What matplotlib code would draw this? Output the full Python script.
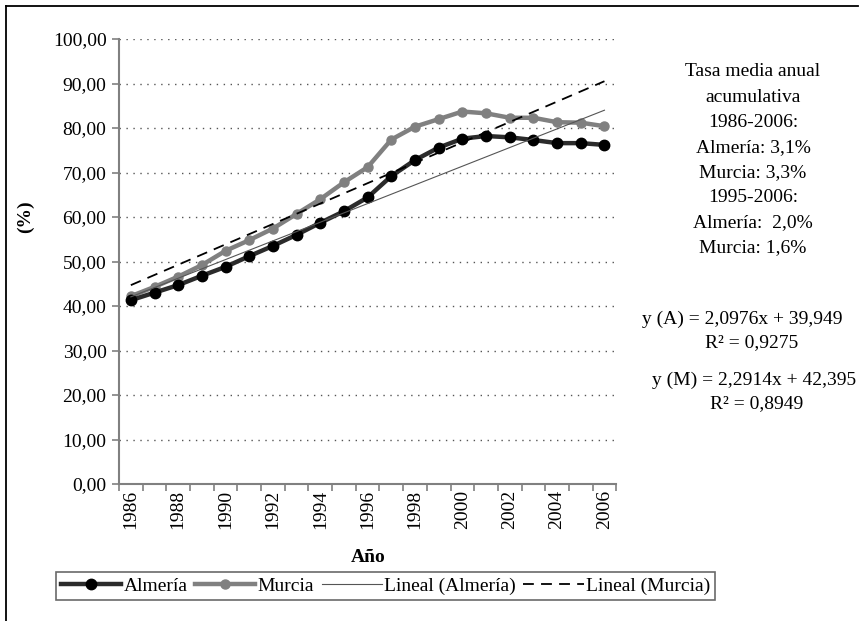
import matplotlib
matplotlib.use("Agg")
import matplotlib.pyplot as plt
from matplotlib.lines import Line2D
import numpy as np

plt.rcParams['font.family'] = ['Liberation Serif', 'DejaVu Serif']

# datos
years = list(range(1986, 2007))
almeria = [41.3, 43.0, 44.7, 46.8, 48.8, 51.2, 53.5, 56.0, 58.7, 61.3, 64.4,
           69.2, 72.8, 75.6, 77.6, 78.2, 77.9, 77.3, 76.6, 76.6, 76.2]
murcia = [42.2, 44.3, 46.6, 49.2, 52.4, 54.8, 57.4, 60.7, 64.0, 67.8, 71.2,
          77.4, 80.3, 82.0, 83.7, 83.3, 82.3, 82.3, 81.3, 81.2, 80.4]
# coeficientes de las rectas de tendencia (del propio gráfico)
coef_a = (2.0976, 39.949)
coef_m = (2.2914, 42.395)

yticks = [0, 10, 20, 30, 40, 50, 60, 70, 80, 90, 100]
ytick_labels = ["0,00", "10,00", "20,00", "30,00", "40,00", "50,00",
                "60,00", "70,00", "80,00", "90,00", "100,00"]
xtick_labels = [str(y) for y in years[::2]]

side_lines = ["Tasa media anual", "acumulativa", "1986-2006:", "Almería: 3,1%",
              "Murcia: 3,3%", "1995-2006:", "Almería:  2,0%", "Murcia: 1,6%"]

W, H = 859, 621
FS = 14
fig = plt.figure(figsize=(W / 100, H / 100), dpi=100)

def fx(x):
    return x / W

def fy(y):
    return 1 - y / H

ax = fig.add_axes([fx(119), fy(484), fx(616.3) - fx(119), fy(39) - fy(484)])

x = np.arange(len(years))
n = np.arange(1, len(years) + 1)

ax.plot(x, murcia, color='#808080', lw=3.2, marker='o', ms=6.5,
        mfc='#808080', mec='#808080', label='Murcia', zorder=3)
ax.plot(x, almeria, color='#2b2b2b', lw=3.2, marker='o', ms=7.5,
        mfc='black', mec='black', label='Almería', zorder=4)
ax.plot(x, coef_a[0] * n + coef_a[1], color='#555555', lw=0.8,
        label='Lineal (Almería)', zorder=5)
ax.plot(x, coef_m[0] * n + coef_m[1], color='black', lw=1.3,
        dashes=(6, 4), label='Lineal (Murcia)', zorder=5)

ax.set_xlim(-0.5, len(years) - 0.5)
ax.set_ylim(0, 100)

ax.set_yticks(yticks)
ax.set_yticklabels(ytick_labels, fontsize=FS)
for v in yticks[1:]:
    ax.axhline(v, color='#555555', lw=1.0, ls=(0, (1, 4)), zorder=1)

ax.set_xticks(np.arange(-0.5, len(years) + 0.5, 1))
ax.set_xticklabels([])
ax.set_xticks(x[::2], minor=True)
ax.set_xticklabels(xtick_labels, minor=True, rotation=90, fontsize=FS)
ax.tick_params(axis='x', which='minor', length=0, pad=4)
ax.tick_params(axis='x', which='major', length=5, color='#808080', width=1.2)
ax.tick_params(axis='y', length=5, color='#808080', width=1.2, pad=4)

for s in ['top', 'right']:
    ax.spines[s].set_visible(False)
for s in ['left', 'bottom']:
    ax.spines[s].set_color('#808080')
    ax.spines[s].set_linewidth(1.5)

fig.text(fx(25), fy(217), "(%)", rotation=90, fontsize=FS, fontweight='bold',
         ha='center', va='center')
fig.text(fx(368), fy(557), "Año", fontsize=FS, fontweight='bold',
         ha='center', va='center')

for i, t in enumerate(side_lines):
    fig.text(fx(753), fy(72 + 25.1 * i), t, fontsize=FS, ha='center', va='center')

fig.text(fx(742), fy(319), "y (A) = 2,0976x + 39,949", fontsize=FS, ha='center', va='center')
fig.text(fx(752), fy(343), "R² = 0,9275", fontsize=FS, ha='center', va='center')
fig.text(fx(856), fy(380), "y (M) = 2,2914x + 42,395", fontsize=FS, ha='right', va='center')
fig.text(fx(757), fy(404), "R² = 0,8949", fontsize=FS, ha='center', va='center')

handles, labels = ax.get_legend_handles_labels()
order = [1, 0, 2, 3]
leg = fig.legend([handles[i] for i in order], [labels[i] for i in order],
                 loc='center', bbox_to_anchor=(fx(385.5), fy(586)), ncol=4,
                 fontsize=FS, frameon=True, fancybox=False, handlelength=3.1,
                 handletextpad=0.1, columnspacing=0.4, borderpad=0.25)
leg.get_frame().set_edgecolor('#444444')
leg.get_frame().set_linewidth(1.2)

# marco exterior (arriba e izquierda)
fig.add_artist(Line2D([fx(6), fx(858)], [fy(6), fy(6)], color='black', lw=1.3))
fig.add_artist(Line2D([fx(6), fx(6)], [fy(6), fy(621)], color='black', lw=1.3))

fig.savefig("out.png", dpi=100)
